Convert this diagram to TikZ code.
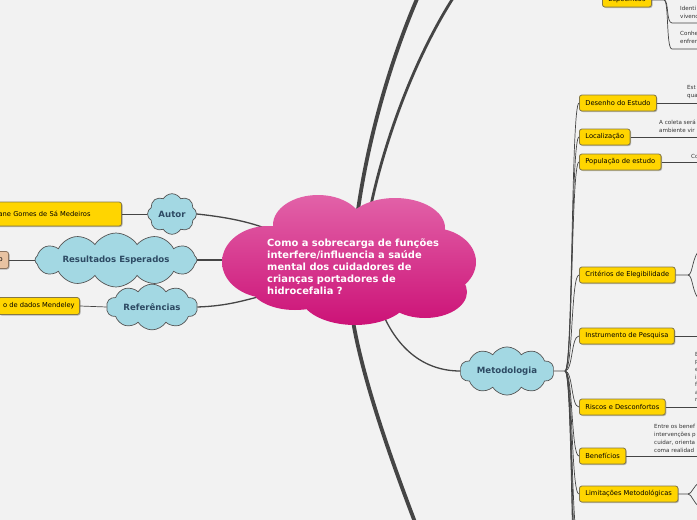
\documentclass[tikz,border=0pt]{standalone}
\usepackage{fontspec}
\setmainfont{DejaVu Sans}
\usetikzlibrary{shapes.symbols,shadows}
\definecolor{bg}{HTML}{F2F2F2}
\definecolor{pinkT}{HTML}{E262A8}
\definecolor{pinkB}{HTML}{CC1277}
\definecolor{cfill}{HTML}{A3D8E3}
\definecolor{cborder}{HTML}{555555}
\definecolor{ctext}{HTML}{2D4A63}
\definecolor{yfill}{HTML}{FFD500}
\definecolor{yborder}{HTML}{857845}
\definecolor{tfill}{HTML}{E8C3A2}
\definecolor{tborder}{HTML}{8A7460}
\definecolor{lcol}{HTML}{454545}
\definecolor{stext}{HTML}{333333}
\begin{document}
\begin{tikzpicture}[x=1pt,y=-1pt,
  ybox/.style={draw=yborder, fill=yfill, rounded corners=2.5pt, line width=0.8pt,
    minimum height=16pt, inner xsep=6pt, inner ysep=0pt, anchor=west,
    font=\fontsize{6.7}{8}\selectfont, text=black,
    drop shadow={shadow xshift=1pt, shadow yshift=-1pt, opacity=0.25, fill=black}},
  tbox/.style={ybox, fill=tfill, draw=tborder},
  bcloud/.style={cloud, draw=cborder, fill=cfill, line width=0.7pt, inner sep=0pt,
    font=\bfseries\fontsize{8.6}{10}\selectfont, text=ctext},
  link/.style={draw=lcol, line width=1.3pt},
  thinlink/.style={draw=lcol, line width=0.7pt},
  thick1/.style={draw=lcol, line width=3.8pt},
  thick2/.style={draw=lcol, line width=2.8pt},
  small/.style={font=\fontsize{5.6}{8}\selectfont, text=stext, anchor=north west, inner sep=0pt, align=left}
]
\useasboundingbox (0,0) rectangle (697,520);
\clip (0,0) rectangle (697,520);
\fill[bg] (0,0) rectangle (697,520);

% off-canvas coordinates
\coordinate (top1) at (420,-8);
\coordinate (top2) at (457,-8);
\coordinate (bot1) at (418,530);
\coordinate (c1s) at (358,210);
\coordinate (c2s) at (370,210);
\coordinate (c3s) at (352,315);
\coordinate (cm) at (382,312);
\coordinate (cl1) at (270,230);
\coordinate (cl2) at (240,260);
\coordinate (cl3) at (262,296);

% thick connectors from centre
\draw[thick1] (c1s) .. controls (368,140) and (390,60) .. (top1);
\draw[thick2] (c2s) .. controls (382,150) and (412,60) .. (top2);
\draw[thick1] (c3s) .. controls (362,380) and (395,470) .. (bot1);

% clouds (left and Metodologia)
\node[bcloud, cloud puffs=8, cloud puff arc=120, minimum width=49pt, minimum height=40pt, aspect=1.1] (autor) at (172,214) {Autor};
\node[bcloud, cloud puffs=12, cloud puff arc=115, minimum width=162pt, minimum height=36pt, aspect=4.5] (result) at (116,260) {Resultados Esperados};
\node[bcloud, cloud puffs=10, cloud puff arc=115, minimum width=91pt, minimum height=37pt, aspect=2.4] (refs) at (152,307) {Referências};
\node[bcloud, cloud puffs=10, cloud puff arc=115, minimum width=94pt, minimum height=38pt, aspect=2.4] (metod) at (507,371) {Metodologia};

% links to centre
\draw[link] (autor.east) .. controls (235,218) and (255,224) .. (cl1);
\draw[link] (result.east) -- (cl2);
\draw[link] (refs.east) .. controls (228,306) and (245,300) .. (cl3);
\draw[link] (cm) .. controls (398,350) and (425,371) .. (metod.west);

% central cloud
\shade[top color=pinkT, bottom color=pinkB]
  (318,225) ellipse (45 and 30)
  (395,228) ellipse (50 and 30)
  (268,262) ellipse (46 and 36)
  (432,262) ellipse (44 and 34)
  (295,285) ellipse (45 and 25)
  (355,295) ellipse (55 and 30)
  (425,292) ellipse (42 and 26)
  (350,262) ellipse (95 and 42);
\node[anchor=north west, inner sep=0pt, align=left, text=white,
  font=\bfseries\fontsize{9.9}{12}\selectfont] (central) at (267,239)
  {Como a sobrecarga de funções\\interfere/influencia a saúde\\mental dos cuidadores de\\crianças portadores de\\hidrocefalia ?};

% left boxes
\node[ybox, anchor=east, minimum height=24pt, text width=117pt, align=left] (autorbox) at (122,214) {ane Gomes de Sá Medeiros};
\node[tbox, anchor=east, minimum height=17pt] (resbox) at (9,260) {o};
\node[ybox, anchor=east, minimum height=17pt, inner xsep=5pt] (refbox) at (80,306) {o de dados Mendeley};
\draw[thinlink] (autor.west) -- (autorbox.east);
\draw[thinlink] (result.west) -- (resbox.east);
\draw[thinlink] (refs.west) -- (refbox.east);

% right side: Metodologia children
\coordinate (fan) at (565,371);
\draw[thinlink] (metod.east) -- (fan);
\node[ybox] (desenho) at (579,103) {Desenho do Estudo};
\node[ybox] (local) at (579,137) {Localização};
\node[ybox] (popul) at (579,162) {População de estudo};
\node[ybox] (criter) at (579,275) {Critérios de Elegibilidade};
\node[ybox] (instr) at (579,336) {Instrumento de Pesquisa};
\node[ybox] (riscos) at (579,407) {Riscos e Desconfortos};
\node[ybox] (benef) at (579,456) {Benefícios};
\node[ybox] (limit) at (579,494) {Limitações Metodológicas};
\coordinate (off1) at (579,545);
\coordinate (off2) at (579,580);
\coordinate (off3) at (579,615);
\coordinate (off4) at (579,650);
\foreach \n in {desenho,local,popul,criter,instr,riscos,benef,limit}
  \draw[thinlink] (fan) .. controls +(8,0) and +(-8,0) .. (\n.west);
\foreach \n in {off1,off2,off3,off4}
  \draw[thinlink] (fan) .. controls +(8,0) and +(-8,0) .. (\n);

% right side leaf lines and texts
\coordinate (e1) at (700,103);
\coordinate (e2) at (700,137);
\coordinate (e3) at (700,162);
\coordinate (e5) at (700,336);
\coordinate (e6) at (700,407);
\coordinate (e7) at (700,456);
\draw[thinlink] (desenho.east) -- (e1);
\draw[thinlink] (local.east) -- (e2);
\draw[thinlink] (popul.east) -- (e3);
\draw[thinlink] (instr.east) -- (e5);
\draw[thinlink] (riscos.east) -- (e6);
\draw[thinlink] (benef.east) -- (e7);

\coordinate (cb) at (688,275);
\coordinate (cbu) at (700,250);
\coordinate (cbd) at (700,300);
\draw[thinlink] (criter.east) -- (cb) .. controls (693,275) and (692,256) .. (cbu);
\draw[thinlink] (cb) .. controls (693,275) and (692,294) .. (cbd);
\coordinate (lb) at (688,494);
\coordinate (lbu) at (700,482);
\coordinate (lbd) at (700,507);
\draw[thinlink] (limit.east) -- (lb) .. controls (692,494) and (693,486) .. (lbu);
\draw[thinlink] (lb) .. controls (692,494) and (693,503) .. (lbd);

\node[small] (t1) at (687,85) {Est\\qua};
\node[small] (t2) at (659,120) {A coleta será\\ambiente vir};
\node[small] (t3) at (691,154) {Co};
\node[small] (t7) at (654,424) {Entre os benef\\intervenções p\\cuidar, orienta\\coma realidad};
\node[small, font=\fontsize{5.6}{7.6}\selectfont] (t6) at (695,352) {B\\p\\e\\i\\f\\a\\r};

% top-right: Específicos
\node[ybox, minimum height=14pt] (espec) at (602,0) {Específicos};
\coordinate (sb) at (664,0);
\coordinate (s1) at (672,23);
\coordinate (s2) at (672,49);
\coordinate (s1e) at (700,23);
\coordinate (s2e) at (700,49);
\draw[thinlink] (espec.east) -- (sb) .. controls (669,0) and (666,23) .. (s1) -- (s1e);
\draw[thinlink] (sb) .. controls (669,0) and (666,49) .. (s2) -- (s2e);
\node[small] (t8) at (680,6) {Identi\\vivenc};
\node[small] (t9) at (680,31) {Conhe\\enfren};
\end{tikzpicture}
\end{document}
